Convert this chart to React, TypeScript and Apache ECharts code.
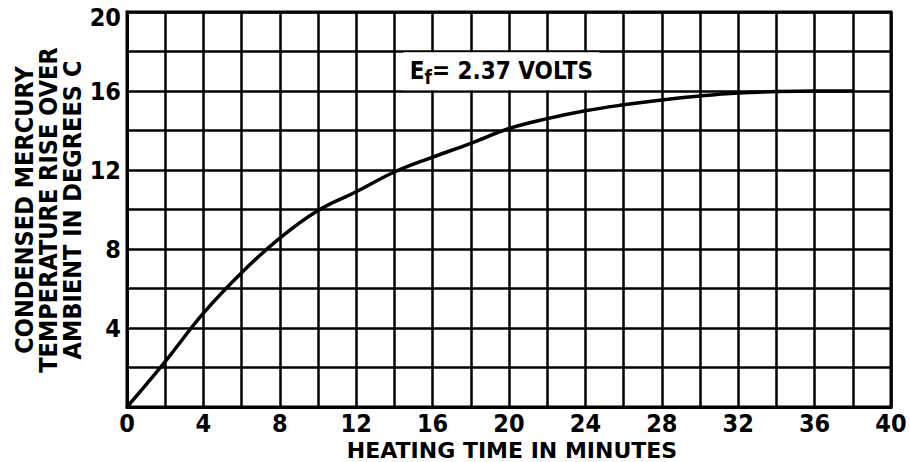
import React, { useEffect, useRef } from "react";
import * as echarts from "echarts";

const heatingMinutes = [0, 2, 4, 6, 8, 10, 12, 14, 16, 18, 20, 22, 24, 26, 28, 30, 32, 34, 36, 38];
const tempRise = [0, 2.3, 4.75, 6.8, 8.55, 9.95, 10.9, 11.9, 12.65, 13.35, 14.1, 14.6, 15.0, 15.3, 15.55, 15.75, 15.9, 15.97, 16.0, 16.0];
const xTickLabels = [0, 4, 8, 12, 16, 20, 24, 28, 32, 36, 40];
const yTickLabels = [4, 8, 12, 16, 20];
const yTitleLines = ["CONDENSED MERCURY", "TEMPERATURE RISE OVER", "AMBIENT IN DEGREES C"];
const xTitle = "HEATING TIME IN MINUTES";
const annotation = { sub: "f", rest: "= 2.37 VOLTS", at: [19.6, 17.0] };

const FONT = "'DejaVu Sans Condensed', 'DejaVu Sans', sans-serif";
const WIDE_FONT = "'DejaVu Sans', sans-serif";

export default function App() {
  const ref = useRef<HTMLDivElement>(null);
  useEffect(() => {
    if (!ref.current) return;
    const chart = echarts.init(ref.current, null, { renderer: "svg" });
    const option: any = {
      animation: false,
      backgroundColor: "#ffffff",
      grid: {
        left: 127,
        right: 19,
        top: 12,
        bottom: 55,
        show: true,
        borderColor: "#000",
        borderWidth: 3,
        backgroundColor: "transparent",
      },
      xAxis: {
        type: "value",
        min: 0,
        max: 40,
        interval: 2,
        axisLine: { show: true, lineStyle: { color: "#000", width: 3 } },
        axisTick: { show: false },
        splitLine: { show: true, lineStyle: { color: "#000", width: 2.5 } },
        axisLabel: {
          margin: 4,
          color: "#000",
          fontFamily: FONT,
          fontWeight: "bold",
          fontSize: 25,
          formatter: (v: number) => (xTickLabels.includes(v) ? String(v) : ""),
        },
      },
      yAxis: {
        type: "value",
        min: 0,
        max: 20,
        interval: 2,
        axisLine: { show: true, lineStyle: { color: "#000", width: 3 } },
        axisTick: { show: false },
        splitLine: { show: true, lineStyle: { color: "#000", width: 2.5 } },
        axisLabel: {
          margin: 6,
          color: "#000",
          fontFamily: FONT,
          fontWeight: "bold",
          fontSize: 25,
          formatter: (v: number) =>
            yTickLabels.includes(v) ? (v === 20 ? `{top|${v}}` : String(v)) : "",
          rich: {
            top: {
              fontFamily: FONT,
              fontWeight: "bold",
              fontSize: 25,
              color: "#000",
              padding: [11, 0, 0, 0],
            },
          },
        },
      },
      graphic: [
        {
          type: "text",
          x: 48,
          y: 210,
          rotation: Math.PI / 2,
          style: {
            text: yTitleLines.join("\n"),
            fill: "#000",
            font: `bold 25px ${FONT}`,
            lineHeight: 24,
            align: "center",
            verticalAlign: "middle",
          },
        },
        {
          type: "text",
          x: 512,
          y: 450,
          style: {
            text: xTitle,
            fill: "#000",
            font: `bold 22px ${WIDE_FONT}`,
            align: "center",
            verticalAlign: "middle",
          },
        },
      ],
      series: [
        {
          type: "line",
          data: heatingMinutes.map((x, i) => [x, tempRise[i]]),
          showSymbol: false,
          smooth: 0.4,
          lineStyle: { color: "#000", width: 3.5 },
          markPoint: {
            symbol: "rect",
            symbolSize: [196, 38],
            itemStyle: { color: "#fff" },
            label: {
              show: true,
              formatter: `{e|E}{s|${annotation.sub}}{r|${annotation.rest}}`,
              rich: {
                e: { fontFamily: FONT, fontWeight: "bold", fontSize: 24, color: "#000" },
                s: { fontFamily: FONT, fontWeight: "bold", fontSize: 19, color: "#000", padding: [12, 0, 0, 0] },
                r: { fontFamily: FONT, fontWeight: "bold", fontSize: 24, color: "#000" },
              },
            },
            data: [{ coord: annotation.at }],
          },
        },
      ],
    };
    chart.setOption(option);
    return () => chart.dispose();
  }, []);
  return (
    <div
      ref={ref}
      style={{ position: "absolute", left: 0, top: 0, width: 910, height: 462 }}
    />
  );
}
